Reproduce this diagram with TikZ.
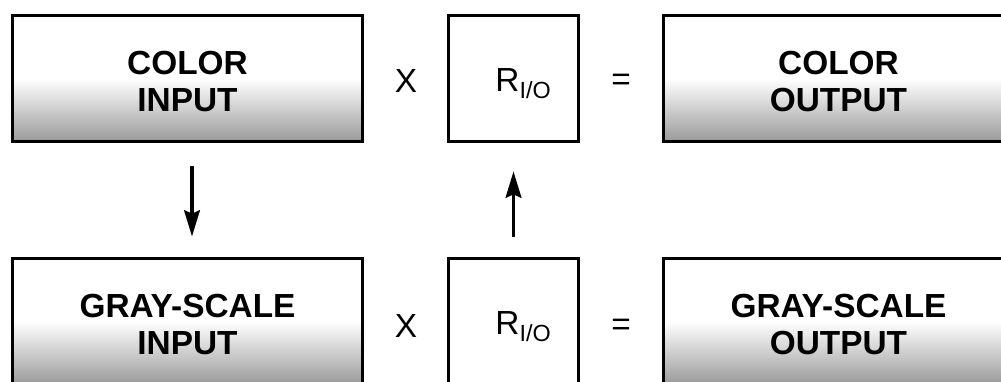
\documentclass[tikz,border=0pt]{standalone}
\usepackage{fontspec}
\setmainfont{Liberation Sans}
\usepackage{tikz}
\usetikzlibrary{arrows.meta, positioning}

\newcommand{\twolines}[2]{\raisebox{-0.14cm}[\height][\depth]{\begin{tabular}{@{}c@{}}#1\\#2\end{tabular}}}
\newcommand{\ratiotext}{\hspace*{0.4cm}\raisebox{-0.1cm}[\height][\depth]{R\textsubscript{I/O}}}

\begin{document}
\begin{tikzpicture}[x=0.02cm, y=-0.02cm, >={Stealth[length=15pt, width=9pt, inset=2pt]},
  panel/.style={draw, line width=1.7pt, minimum width=7.02cm, minimum height=2.54cm,
    top color=white, bottom color=gray!80, middle color=white,
    font=\fontsize{19}{21}\selectfont\bfseries, inner sep=0pt},
  ratiobox/.style={draw, line width=1.7pt, minimum width=2.62cm, minimum height=2.54cm,
    font=\fontsize{19}{21}\selectfont, inner sep=0pt},
  opsign/.style={font=\fontsize{19}{21}\selectfont, inner sep=0pt},
  flow/.style={->, line width=1.8pt}]
  \useasboundingbox (0,0) rectangle (1001,382);
  \clip (0,0) rectangle (1001,382);

  % color row
  \node[panel] (cin) at (187.5,78.5) {\twolines{COLOR}{INPUT}};
  \node[opsign] (mul1) at (406,81) {X};
  \node[ratiobox] (rtop) at (513.5,78.5) {\ratiotext};
  \node[opsign] (eq1) at (621,82) {=};
  \node[panel] (cout) at (838.5,78.5) {\twolines{COLOR}{OUTPUT}};

  % gray-scale row
  \node[panel] (gin) at (187.5,321.5) {\twolines{GRAY-SCALE}{INPUT}};
  \node[opsign] (mul2) at (406,326) {X};
  \node[ratiobox] (rbot) at (513.5,321.5) {\ratiotext};
  \node[opsign] (eq2) at (621,327) {=};
  \node[panel] (gout) at (838.5,321.5) {\twolines{GRAY-SCALE}{OUTPUT}};

  \draw[flow, shorten <=0.46cm, shorten >=0.4cm] ([xshift=0.09cm]cin.south) -- ([xshift=0.09cm]gin.north);
  \draw[flow, shorten <=0.4cm, shorten >=0.56cm] (rbot.north) -- (rtop.south);
\end{tikzpicture}
\end{document}
